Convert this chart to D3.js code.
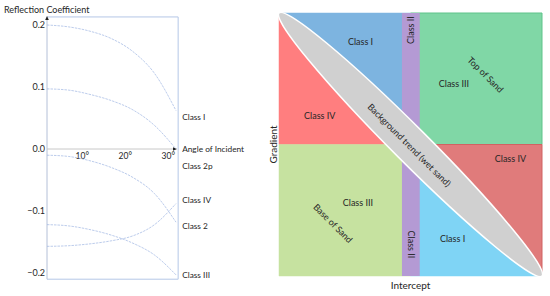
<!DOCTYPE html>
<html>
<head>
<meta charset="utf-8">
<script src="https://cdn.jsdelivr.net/npm/d3@7"></script>
<style>
  body { margin: 0; background: #fff; }
  svg { display: block; font-family: Lato, "Open Sans", sans-serif; }
  text { fill: #262626; }
</style>
</head>
<body>
<div id="chart"></div>
<script>
// angles (deg) where the curves were read
const angles = [0, 5, 10, 15, 20, 25, 30]
// reflection coefficient curves
const classI    = [0.200, 0.197, 0.190, 0.178, 0.157, 0.122, 0.062]
const classII   = [0.097, 0.095, 0.088, 0.078, 0.063, 0.038, 0.000]
const class2p   = [-0.010, -0.012, -0.019, -0.030, -0.046, -0.072, -0.118]
const classIV   = [-0.157, -0.156, -0.153, -0.148, -0.140, -0.122, -0.088]
const classIII  = [-0.122, -0.124, -0.130, -0.139, -0.152, -0.171, -0.203]
const curves = [classI, classII, class2p, classIV, classIII]

const yTicks = [0.2, 0.1, 0.0, -0.1, -0.2]
const xTicks = [10, 20, 30]
const endLabels = ["Class I", "Angle of Incident", "Class 2p", "Class IV", "Class 2", "Class III"]
const endLabelValues = [0.052, 0.0, -0.028, -0.082, -0.124, -0.204]

// crossplot regions (intercept, gradient in [-1, 1])
const regionNames = ["Class I", "Class IV", "Class III", "Class III", "Class IV", "Class I"]
const regionColors = ["#7db4e0", "#ff7e7f", "#80d7a6", "#c6e2a0", "#e07b7b", "#7fd4f5"]
const regionShapes = [
  [[-1, 1], [0, 1], [0, 0]],
  [[-1, 1], [-1, 0], [0, 0]],
  [[0, 1], [1, 1], [1, 0], [0, 0]],
  [[-1, 0], [0, 0], [0, -1], [-1, -1]],
  [[0, 0], [1, 0], [1, -1]],
  [[0, 0], [0, -1], [1, -1]]
]
// label anchors in data units
const regionLabelPos = [[-0.38, 0.78], [-0.69, 0.22], [0.33, 0.46], [-0.4, -0.44], [0.76, -0.11], [0.32, -0.72]]
const classIIBand = [-0.065, 0.07]

const W = 550, H = 296
const svg = d3.select("#chart").append("svg").attr("width", W).attr("height", H)

// ---------- LEFT: reflection coefficient vs angle ----------
const x = d3.scaleLinear().domain([0, 30]).range([47, 176])
const y = d3.scaleLinear().domain([-0.2, 0.2]).range([273, 25])
const left = svg.append("g")

const boxTop = y(0.213), boxBottom = y(-0.21), boxRight = x(30.5)
left.append("path")
  .attr("d", `M${x(0)},${boxTop}H${boxRight}V${boxBottom}H${x(0)}`)
  .attr("fill", "none").attr("stroke", "#b4c7e7").attr("stroke-width", 1)

// vertical axis with arrow
left.append("line")
  .attr("x1", x(0)).attr("x2", x(0)).attr("y1", boxBottom).attr("y2", boxTop)
  .attr("stroke", "#b4c0d8").attr("stroke-width", 1)
left.append("path")
  .attr("d", `M${x(0) - 1.8},${boxTop + 3}L${x(0)},${boxTop - 1}L${x(0) + 1.8},${boxTop + 3}Z`)
  .attr("fill", "#222")

// horizontal axis at 0 with arrow
left.append("line")
  .attr("x1", x(0)).attr("x2", x(30)).attr("y1", y(0)).attr("y2", y(0))
  .attr("stroke", "#c8c8c8").attr("stroke-width", 1)
left.append("path")
  .attr("d", `M${x(30) - 3},${y(0) - 1.8}L${x(30) + 1},${y(0)}L${x(30) - 3},${y(0) + 1.8}Z`)
  .attr("fill", "#222")

left.selectAll(".ytick").data(yTicks).enter().append("text")
  .attr("x", x(0) - 2).attr("y", d => y(d)).attr("dy", "0.35em")
  .attr("text-anchor", "end").attr("font-size", 9)
  .text(d => d3.format(".1f")(d))

left.selectAll(".xtick").data(xTicks).enter().append("text")
  .attr("x", d => x(d) - 1).attr("y", y(0) + 9.5)
  .attr("text-anchor", "end").attr("font-size", 8.5)
  .text(d => d + "°")

left.append("text").attr("x", 4).attr("y", 13).attr("font-size", 9)
  .text("Reflection Coefficient")

const line = d3.line().x((d, i) => x(angles[i])).y(d => y(d)).curve(d3.curveMonotoneX)
left.selectAll(".curve").data(curves).enter().append("path")
  .attr("d", line)
  .attr("fill", "none").attr("stroke", "#9fb6e3").attr("stroke-width", 0.7)
  .attr("stroke-dasharray", "2.5,1")

left.selectAll(".endlab").data(endLabels).enter().append("text")
  .attr("x", boxRight + 4).attr("y", (d, i) => y(endLabelValues[i])).attr("dy", "0.35em")
  .attr("font-size", 8.3)
  .text(d => d)

// ---------- RIGHT: AVO crossplot ----------
const ix = d3.scaleLinear().domain([-1, 1]).range([279, 542])
const gy = d3.scaleLinear().domain([-1, 1]).range([276, 13])
const right = svg.append("g")
const poly = d3.line().x(d => ix(d[0])).y(d => gy(d[1]))

right.selectAll(".region").data(regionShapes).enter().append("path")
  .attr("d", d => poly(d) + "Z")
  .attr("fill", (d, i) => regionColors[i])
  .attr("stroke", (d, i) => i === 2 ? "#5ec38a" : i === 4 ? "#d06262" : regionColors[i])
  .attr("stroke-width", (d, i) => (i === 2 || i === 4) ? 1 : 0.5)

right.append("rect")
  .attr("x", ix(classIIBand[0])).attr("width", ix(classIIBand[1]) - ix(classIIBand[0]))
  .attr("y", gy(1)).attr("height", gy(-1) - gy(1))
  .attr("fill", "#b49ad4")

// background trend ellipse
const cx = ix(0), cy = gy(0)
const halfDiag = Math.hypot(ix(1) - ix(-1), gy(-1) - gy(1)) / 2
right.append("ellipse")
  .attr("cx", cx).attr("cy", cy).attr("rx", halfDiag).attr("ry", 17.5)
  .attr("transform", `rotate(45,${cx},${cy})`)
  .attr("fill", "#d0d0d0").attr("stroke", "#fff").attr("stroke-width", 1.5)

right.selectAll(".rlab").data(regionNames).enter().append("text")
  .attr("x", (d, i) => ix(regionLabelPos[i][0])).attr("y", (d, i) => gy(regionLabelPos[i][1]))
  .attr("dy", "0.35em").attr("text-anchor", "middle").attr("font-size", 9)
  .text(d => d)

right.append("text")
  .attr("transform", `translate(${ix(0.003)},${gy(0.87)}) rotate(-90)`)
  .attr("dy", "0.35em").attr("text-anchor", "middle").attr("font-size", 9)
  .text("Class II")
right.append("text")
  .attr("transform", `translate(${ix(0.003)},${gy(-0.76)}) rotate(90)`)
  .attr("dy", "0.35em").attr("text-anchor", "middle").attr("font-size", 9)
  .text("Class II")

right.append("text")
  .attr("transform", `translate(${ix(0.57)},${gy(0.53)}) rotate(45)`)
  .attr("dy", "0.35em").attr("text-anchor", "middle").attr("font-size", 9)
  .text("Top of Sand")
right.append("text")
  .attr("transform", `translate(${ix(-0.59)},${gy(-0.6)}) rotate(45)`)
  .attr("dy", "0.35em").attr("text-anchor", "middle").attr("font-size", 9)
  .text("Base of Sand")
right.append("text")
  .attr("transform", `translate(${ix(-0.01)},${gy(-0.005)}) rotate(45)`)
  .attr("dy", "0.35em").attr("text-anchor", "middle").attr("font-size", 9)
  .text("Background trend (wet sand)")

right.append("text")
  .attr("x", ix(0)).attr("y", 289).attr("text-anchor", "middle").attr("font-size", 10)
  .text("Intercept")
right.append("text")
  .attr("transform", `translate(273,${gy(0)}) rotate(-90)`)
  .attr("dy", "0.35em").attr("text-anchor", "middle").attr("font-size", 10)
  .text("Gradient")
</script>
</body>
</html>
